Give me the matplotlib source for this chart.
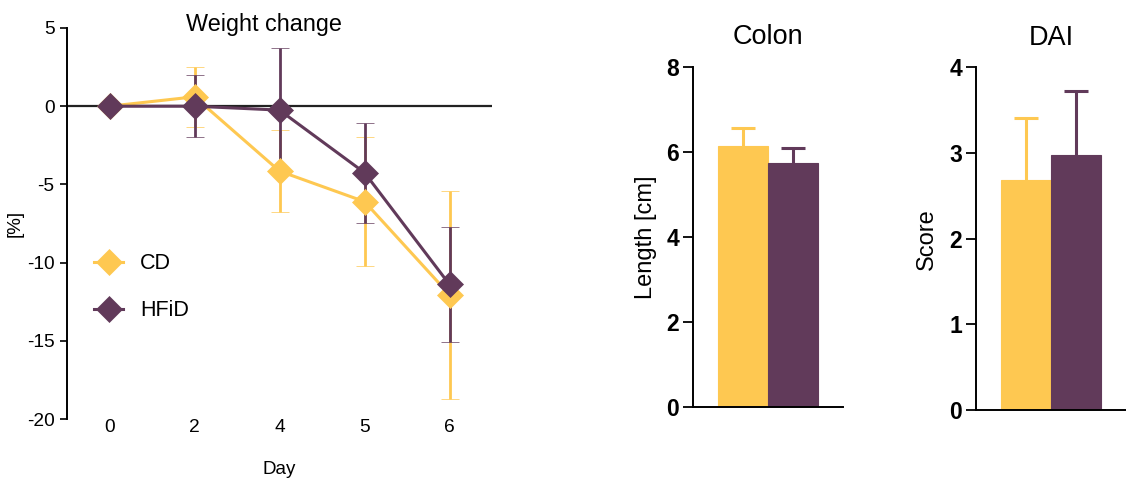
import matplotlib
matplotlib.use("Agg")
import matplotlib.pyplot as plt
from matplotlib.lines import Line2D
import numpy as np

plt.rcParams['font.family'] = ['Liberation Sans', 'DejaVu Sans']
plt.rcParams['axes.unicode_minus'] = False

# Weight change over time (mean and SD, %)
days = ["0", "2", "4", "5", "6"]
cd_weight = [0.0, 0.6, -4.15, -6.1, -12.05]
cd_weight_sd = [0.0, 1.9, 2.6, 4.1, 6.65]
hfid_weight = [0.0, 0.0, -0.25, -4.25, -11.4]
hfid_weight_sd = [0.0, 2.0, 3.95, 3.2, 3.7]

# Colon length (cm)
groups = ["CD", "HFiD"]
colon_length = [6.14, 5.74]
colon_length_sd = [0.41, 0.35]

# Disease activity index
dai_score = [2.69, 2.98]
dai_score_sd = [0.72, 0.74]

YELLOW = "#FEC851"
PURPLE = "#613A5A"
colors = [YELLOW, PURPLE]

fig = plt.figure(figsize=(11.26, 4.8), dpi=100)

# ---------------- Weight change ----------------
ax = fig.add_axes([67/1126, 1-419/480, 425/1126, 391/480])
x = np.arange(len(days))
for vals, sd, col in [(cd_weight, cd_weight_sd, YELLOW),
                      (hfid_weight, hfid_weight_sd, PURPLE)]:
    ax.errorbar(x, vals, yerr=sd, color=col, lw=2.2, elinewidth=2.0,
                capsize=6.5, capthick=2.0, marker="D", ms=13,
                mec=col, mew=0.5, zorder=3)
ax.axhline(0, color="#222222", lw=1.6, zorder=1)
ax.set_xlim(-0.5, 4.5)
ax.set_ylim(-20, 5)
ax.set_yticks([5, 0, -5, -10, -15, -20])
ax.set_xticks(x)
ax.set_xticklabels(days)
for s in ["top", "right", "bottom"]:
    ax.spines[s].set_visible(False)
ax.spines["left"].set_linewidth(1.4)
ax.tick_params(axis="y", direction="out", length=5, width=1.2, labelsize=13.8, pad=4)
ax.tick_params(axis="x", length=0, labelsize=13.8, pad=0)
ax.set_ylabel("[%]", fontsize=13.5)
ax.yaxis.set_label_coords(-0.101, 0.5)
ax.set_xlabel("Day", fontsize=13.5, va="center")
ax.xaxis.set_label_coords(0.5, -0.128)
fig.text(264/1126, 1-24/480, "Weight change", fontsize=16.8, ha="center", va="center")

handles = [Line2D([], [], color=c, lw=2.2, marker="D", ms=13, mec=c, mew=0.5)
           for c in colors]
ax.legend(handles, groups, loc="center left", bbox_to_anchor=(0.0635, 0.337),
          frameon=False, fontsize=15.5, handlelength=1.35, handletextpad=0.8,
          labelspacing=1.2, borderaxespad=0.0, borderpad=0.0)

# ---------------- Bar panels ----------------
def bar_panel(rect, values, sds, ymax, step, title, ylabel, ylabel_x):
    bx = fig.add_axes(rect)
    pos = np.arange(len(values))
    bx.bar(pos, values, width=1.0, color=colors, edgecolor=colors, lw=0.8, zorder=2)
    for p, v, s, c in zip(pos, values, sds, colors):
        bx.errorbar(p, v, yerr=[[0], [s]], color=c, elinewidth=2.2,
                    capsize=0, zorder=1)
        bx.plot(p, v + s, marker="_", ms=17, mew=2.2, color=c, zorder=1)
    bx.set_xlim(-1, 2)
    bx.set_ylim(0, ymax)
    bx.set_yticks(np.arange(0, ymax + step / 2, step))
    bx.set_xticks([])
    for s in ["top", "right"]:
        bx.spines[s].set_visible(False)
    bx.spines["left"].set_linewidth(1.4)
    bx.spines["bottom"].set_linewidth(1.4)
    bx.tick_params(axis="y", direction="out", length=7, width=1.3, labelsize=16.5, pad=3)
    for t in bx.get_yticklabels():
        t.set_fontweight("bold")
    bx.set_ylabel(ylabel, fontsize=17)
    bx.yaxis.set_label_coords(ylabel_x, 0.5)
    bx.set_title(title, fontsize=19.5, pad=16)
    return bx

bar_panel([693/1126, 1-407.3/480, 150/1126, 340.6/480], colon_length, colon_length_sd,
          8, 2, "Colon", "Length [cm]", -0.24)
bar_panel([976/1126, 1-410/480, 150/1126, 342.7/480], dai_score, dai_score_sd,
          4, 1, "DAI", "Score", -0.253)

fig.savefig("out.png", dpi=100)
